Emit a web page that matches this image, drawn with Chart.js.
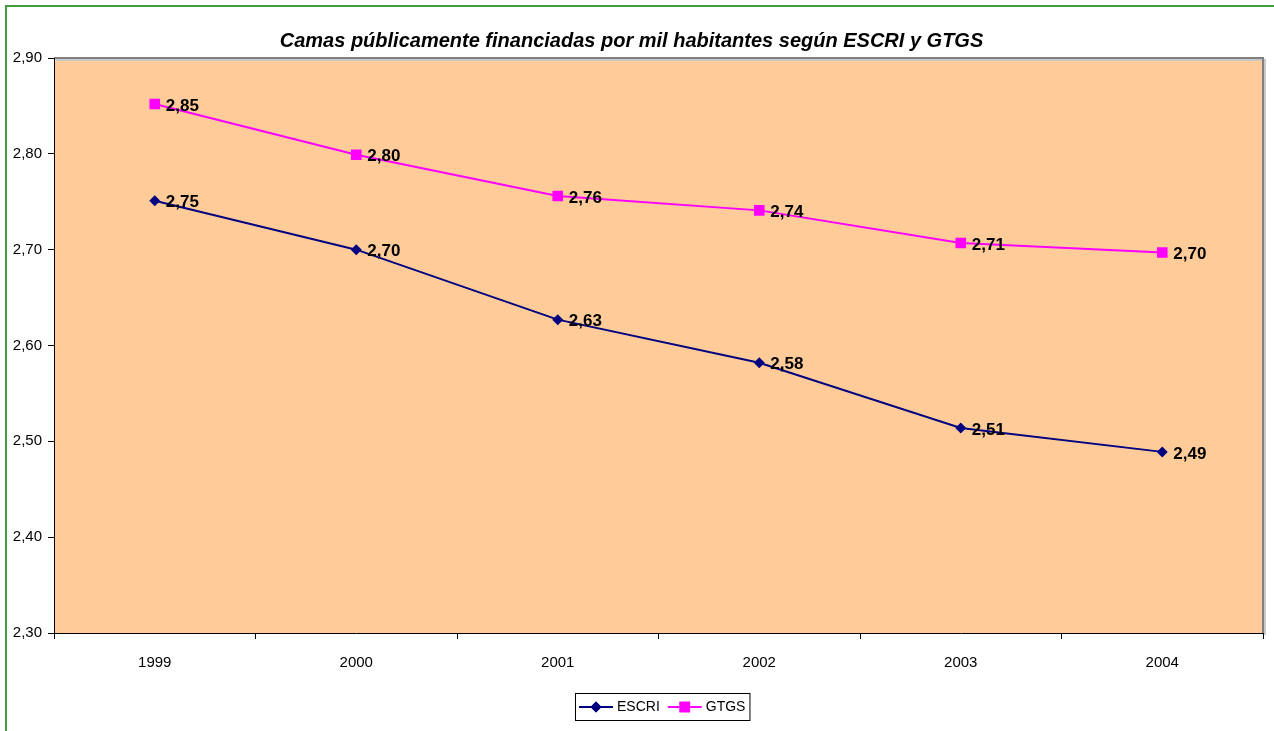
<!DOCTYPE html>
<html>
<head>
<meta charset="utf-8">
<title>Camas públicamente financiadas</title>
<script src="https://cdn.jsdelivr.net/npm/chart.js@4/dist/chart.umd.min.js"></script>
<style>
  html, body { margin: 0; padding: 0; background: #fff; }
  #wrap { position: relative; width: 1274px; height: 731px; }
</style>
</head>
<body>
<div id="wrap"><canvas id="grafico" width="1274" height="731"></canvas></div>
<script>
// Datos por año
const anios = ['1999', '2000', '2001', '2002', '2003', '2004'];
const escri = [2.751, 2.700, 2.627, 2.582, 2.514, 2.489];
const gtgs = [2.852, 2.799, 2.756, 2.741, 2.707, 2.697];
const tituloGrafico = 'Camas públicamente financiadas por mil habitantes según ESCRI y GTGS';

const FUENTE = '"Liberation Sans", Arial, sans-serif';
const fmt = v => v.toFixed(2).replace('.', ',');

// Fondo del área de trazado, marco verde exterior y borde gris
const fondoPlugin = {
    id: 'fondo',
    beforeDraw(chart) {
        const { ctx, chartArea: a } = chart;
        ctx.save();
        ctx.strokeStyle = '#3f9e3f';
        ctx.lineWidth = 2;
        ctx.beginPath();
        ctx.moveTo(6, chart.height + 2);
        ctx.lineTo(6, 6);
        ctx.lineTo(chart.width + 2, 6);
        ctx.stroke();

        ctx.fillStyle = '#FFCC99';
        ctx.fillRect(a.left, a.top, a.right - a.left, a.bottom - a.top);
        ctx.strokeStyle = '#c8c8c8';
        ctx.lineWidth = 2;
        ctx.beginPath();
        ctx.moveTo(a.left + 2, a.top + 2);
        ctx.lineTo(a.right + 2, a.top + 2);
        ctx.lineTo(a.right + 2, a.bottom + 2);
        ctx.stroke();
        ctx.strokeStyle = '#808080';
        ctx.lineWidth = 2;
        ctx.beginPath();
        ctx.moveTo(a.left, a.top);
        ctx.lineTo(a.right, a.top);
        ctx.lineTo(a.right, a.bottom);
        ctx.stroke();
        ctx.restore();
    }
};

// Etiquetas de valor a la derecha de cada punto
const etiquetasPlugin = {
    id: 'etiquetas',
    afterDatasetsDraw(chart) {
        const ctx = chart.ctx;
        ctx.save();
        ctx.font = 'bold 17px ' + FUENTE;
        ctx.fillStyle = '#000';
        ctx.textAlign = 'left';
        ctx.textBaseline = 'middle';
        chart.data.datasets.forEach((ds, i) => {
            chart.getDatasetMeta(i).data.forEach((p, j) => {
                ctx.fillText(fmt(ds.data[j]), p.x + 11, p.y + 2);
            });
        });
        ctx.restore();
    }
};

// Leyenda con línea y marcador, dentro de un recuadro
const leyendaPlugin = {
    id: 'leyendaLinea',
    afterDraw(chart) {
        const ctx = chart.ctx;
        ctx.save();
        ctx.font = '14px ' + FUENTE;
        const linea = 34, hueco = 4, sep = 8, margen = 4;
        const items = chart.data.datasets.map(ds => ({ ds, w: ctx.measureText(ds.label).width }));
        let total = margen * 2;
        items.forEach((it, i) => { total += linea + hueco + it.w + (i ? sep : 0); });
        const cx = 662, top = 693, alto = 27;
        let x = Math.round(cx - total / 2);
        ctx.strokeStyle = '#000';
        ctx.lineWidth = 1;
        ctx.strokeRect(x + 0.5, top + 0.5, total, alto);
        const y = top + alto / 2 + 0.5;
        x += margen;
        items.forEach((it, i) => {
            if (i) x += sep;
            const ds = it.ds;
            ctx.strokeStyle = ds.borderColor;
            ctx.lineWidth = 2;
            ctx.beginPath();
            ctx.moveTo(x, y);
            ctx.lineTo(x + linea, y);
            ctx.stroke();
            ctx.fillStyle = ds.pointBackgroundColor;
            Chart.helpers.drawPoint(ctx, {
                pointStyle: ds.pointStyle, radius: ds.pointRadius, borderWidth: 0
            }, x + linea / 2, y);
            ctx.fill();
            ctx.fillStyle = '#000';
            ctx.textAlign = 'left';
            ctx.textBaseline = 'middle';
            ctx.fillText(ds.label, x + linea + hueco, y);
            x += linea + hueco + it.w;
        });
        ctx.restore();
    }
};

new Chart(document.getElementById('grafico'), {
    type: 'line',
    data: {
        labels: anios,
        datasets: [
            {
                label: 'ESCRI',
                data: escri,
                borderColor: '#000080',
                backgroundColor: '#000080',
                pointBackgroundColor: '#000080',
                pointBorderColor: '#000080',
                pointStyle: 'rectRot',
                pointRadius: 5.5,
                pointBorderWidth: 0,
                borderWidth: 2,
                tension: 0
            },
            {
                label: 'GTGS',
                data: gtgs,
                borderColor: '#FF00FF',
                backgroundColor: '#FF00FF',
                pointBackgroundColor: '#FF00FF',
                pointBorderColor: '#FF00FF',
                pointStyle: 'rect',
                pointRadius: 7.5,
                pointBorderWidth: 0,
                borderWidth: 2,
                tension: 0
            }
        ]
    },
    options: {
        responsive: false,
        animation: false,
        layout: { padding: { left: 0, right: 11, top: 0, bottom: 0 } },
        plugins: {
            legend: { display: false },
            tooltip: { enabled: false },
            title: {
                display: true,
                text: tituloGrafico,
                color: '#000',
                font: { family: FUENTE, size: 20, weight: 'bold', style: 'italic', lineHeight: 1 },
                padding: { top: 31, bottom: 7 }
            }
        },
        scales: {
            x: {
                offset: true,
                afterFit(scale) { scale.height = 98; },
                border: { display: true, color: '#000', width: 1 },
                grid: {
                    offset: true,
                    drawOnChartArea: false,
                    drawTicks: true,
                    tickLength: 6,
                    color: '#000'
                },
                ticks: {
                    color: '#000',
                    padding: 15,
                    maxRotation: 0,
                    font: { family: FUENTE, size: 15 }
                }
            },
            y: {
                min: 2.3,
                max: 2.9,
                afterFit(scale) { scale.width = 54; },
                border: { display: true, color: '#000', width: 1 },
                grid: {
                    drawOnChartArea: false,
                    drawTicks: true,
                    tickLength: 6,
                    color: '#000'
                },
                ticks: {
                    stepSize: 0.1,
                    color: '#000',
                    padding: 6,
                    font: { family: FUENTE, size: 15 },
                    callback: v => fmt(v)
                }
            }
        }
    },
    plugins: [fondoPlugin, etiquetasPlugin, leyendaPlugin]
});
</script>
</body>
</html>
